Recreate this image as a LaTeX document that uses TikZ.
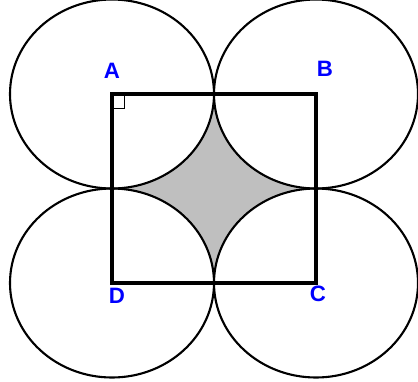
\documentclass[tikz,border=0pt]{standalone}
\usepackage{fontspec}
\setsansfont{Liberation Sans}
\usetikzlibrary{positioning}

\begin{document}
\begin{tikzpicture}[
  x=0.03cm, y=-0.03cm,
  disc/.style={line width=1.8pt},
  side/.style={line width=2.6pt},
  shade/.style={fill=black!25},
  corner/.style={font=\sffamily\bfseries\fontsize{19}{19}\selectfont, text=blue, inner sep=0pt}
]
  \useasboundingbox (0,0) rectangle (418,381);

  % Sommets du carre, rayons = moitie du cote.
  \coordinate (pA) at (112,94);
  \coordinate (pB) at (316,94);
  \coordinate (pC) at (316,283);
  \coordinate (pD) at (112,283);

  \fill[shade] (112,188.5)
    arc[start angle=90, end angle=0, x radius=102, y radius=94.5]
    arc[start angle=180, end angle=90, x radius=102, y radius=94.5]
    arc[start angle=270, end angle=180, x radius=102, y radius=94.5]
    arc[start angle=0, end angle=-90, x radius=102, y radius=94.5] -- cycle;

  \draw[disc] (pA) circle[x radius=102, y radius=94.5];
  \draw[disc] (pB) circle[x radius=102, y radius=94.5];
  \draw[disc] (pC) circle[x radius=102, y radius=94.5];
  \draw[disc] (pD) circle[x radius=102, y radius=94.5];

  \draw[side] (pA) -- (pB) -- (pC) -- (pD) -- cycle;
  \draw[line width=0.8pt] (pA) ++(12,0) -- ++(0,14) -- ++(-12,0);

  \node[corner] (A) at (112,71) {A};
  \node[corner] (B) at (325,69) {B};
  \node[corner] (C) at (318,294) {C};
  \node[corner] (D) at (117,296) {D};
\end{tikzpicture}
\end{document}
